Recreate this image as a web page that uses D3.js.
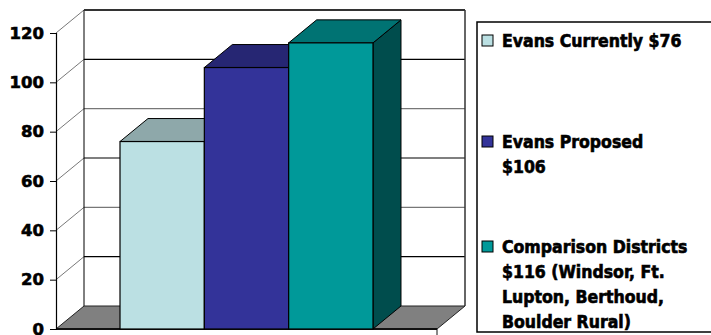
<!DOCTYPE html>
<html>
<head>
<meta charset="utf-8">
<script src="https://cdn.jsdelivr.net/npm/d3@7/dist/d3.min.js"></script>
<style>
  html, body { margin: 0; padding: 0; background: #fff; }
  svg { display: block; }
</style>
</head>
<body>
<svg id="chart" width="711" height="335"></svg>
<script>
// ---- data ----
const categories = ["Evans Currently", "Evans Proposed", "Comparison Districts"];
const values = [76, 106, 116];
const legendLabels = [
  ["Evans Currently $76"],
  ["Evans Proposed", "$106"],
  ["Comparison Districts", "$116 (Windsor, Ft.", "Lupton, Berthoud,", "Boulder Rural)"]
];
const yTicks = [0, 20, 40, 60, 80, 100, 120];

// ---- styles ----
const frontColors = ["#BBE0E3", "#333399", "#009999"];
const topColors   = ["#8EA8AA", "#262673", "#007373"];
const sideColors  = ["#8EA8AA", "#262673", "#004D4D"];

const svg = d3.select("#chart");
const DX = 28, DY = -23;
const x0 = 56, x1 = 437;
const y = d3.scaleLinear().domain([0, 120]).range([329, 33]);
const x = d3.scaleBand().domain(categories).range([x0, x1]).paddingInner(0).paddingOuter(0.759);

const pt = p => p.map(d => d.join(",")).join(" ");

// back wall
svg.append("rect").attr("x", x0 + DX).attr("y", y(120) + DY)
  .attr("width", x1 - x0).attr("height", y(0) - y(120))
  .attr("fill", "#fff");

// side (left) wall
svg.append("polygon")
  .attr("points", pt([[x0, y(120)], [x0 + DX, y(120) + DY], [x0 + DX, y(0) + DY], [x0, y(0)]]))
  .attr("fill", "#fff");

// gridlines on back wall
const grid = yTicks.filter(v => v > 0 && v < 120);
svg.selectAll("line.grid").data(grid).join("line")
  .attr("class", "grid")
  .attr("x1", x0 + DX).attr("x2", x1 + DX)
  .attr("y1", d => y(d) + DY).attr("y2", d => y(d) + DY)
  .attr("stroke", (d, i) => (i % 2 === 0) ? "#000" : "#777")
  .attr("stroke-width", 1.2);

// diagonals on side wall
svg.selectAll("line.diag").data(yTicks.filter(v => v > 0)).join("line")
  .attr("class", "diag")
  .attr("x1", x0).attr("y1", d => y(d))
  .attr("x2", x0 + DX).attr("y2", d => y(d) + DY)
  .attr("stroke", "#555").attr("stroke-width", 0.8);

// back wall left edge, right edge and top
svg.append("line").attr("x1", x0 + DX).attr("x2", x0 + DX)
  .attr("y1", y(120) + DY).attr("y2", y(0) + DY).attr("stroke", "#000").attr("stroke-width", 1);
svg.append("line").attr("x1", x1 + DX).attr("x2", x1 + DX)
  .attr("y1", y(120) + DY).attr("y2", y(0) + DY).attr("stroke", "#333").attr("stroke-width", 1.5);
svg.append("line").attr("x1", x0 + DX).attr("x2", x1 + DX)
  .attr("y1", y(120) + DY).attr("y2", y(120) + DY).attr("stroke", "#333").attr("stroke-width", 2);

// floor
svg.append("polygon")
  .attr("points", pt([[x0, y(0)], [x1, y(0)], [x1 + DX, y(0) + DY], [x0 + DX, y(0) + DY]]))
  .attr("fill", "#808080").attr("stroke", "#222").attr("stroke-width", 1);
svg.append("line").attr("x1", x0).attr("x2", x1).attr("y1", y(0)).attr("y2", y(0))
  .attr("stroke", "#111").attr("stroke-width", 2);
svg.append("line").attr("x1", x1).attr("x2", x1).attr("y1", y(0)).attr("y2", y(0) + 6)
  .attr("stroke", "#111").attr("stroke-width", 1);

// bars
const bars = svg.selectAll("g.bar").data(categories).join("g").attr("class", "bar");
bars.each(function (c, i) {
  const g = d3.select(this);
  const bx = x(c), bw = x.bandwidth(), ty = y(values[i]), by = y(0);
  g.append("polygon")
    .attr("points", pt([[bx + bw, ty], [bx + bw + DX, ty + DY], [bx + bw + DX, by + DY], [bx + bw, by]]))
    .attr("fill", sideColors[i]).attr("stroke", "#000").attr("stroke-width", 1);
  g.append("polygon")
    .attr("points", pt([[bx, ty], [bx + DX, ty + DY], [bx + bw + DX, ty + DY], [bx + bw, ty]]))
    .attr("fill", topColors[i]).attr("stroke", "#000").attr("stroke-width", 1);
  g.append("rect").attr("x", bx).attr("y", ty).attr("width", bw).attr("height", by - ty)
    .attr("fill", frontColors[i]).attr("stroke", "#000").attr("stroke-width", 1.2);
});

// y axis
const axis = d3.axisLeft(y).tickValues(yTicks).tickSize(6).tickPadding(6).tickFormat(d3.format("d"));
const ag = svg.append("g").attr("transform", `translate(${x0},0)`).call(axis);
ag.select(".domain").attr("stroke", "#000").attr("stroke-width", 1.2);
ag.selectAll(".tick line").attr("stroke", "#000");
ag.selectAll(".tick text")
  .attr("fill", "#000")
  .attr("stroke", "#000").attr("stroke-width", 0.6)
  .style("font-family", "'DejaVu Sans', sans-serif")
  .style("font-weight", "bold")
  .style("font-size", "16.5px");

// legend
const lg = svg.append("g");
lg.append("rect").attr("x", 477).attr("y", 22).attr("width", 260).attr("height", 310)
  .attr("fill", "#fff").attr("stroke", "#000").attr("stroke-width", 1.5);
const legendY = [47, 148, 253];
legendLabels.forEach((lines, i) => {
  lg.append("rect").attr("x", 482).attr("y", legendY[i] - 12).attr("width", 11).attr("height", 11)
    .attr("fill", frontColors[i]).attr("stroke", "#000").attr("stroke-width", 1);
  const t = lg.append("text").attr("x", 502).attr("y", legendY[i])
    .attr("fill", "#000")
    .attr("stroke", "#000").attr("stroke-width", 0.6)
    .style("font-family", "'DejaVu Sans Condensed', 'DejaVu Sans', sans-serif")
    .style("font-stretch", "condensed")
    .style("font-weight", "bold")
    .style("font-size", "17.5px");
  lines.forEach((ln, j) => {
    t.append("tspan").attr("x", 502).attr("dy", j === 0 ? 0 : 25).text(ln);
  });
});
</script>
</body>
</html>
